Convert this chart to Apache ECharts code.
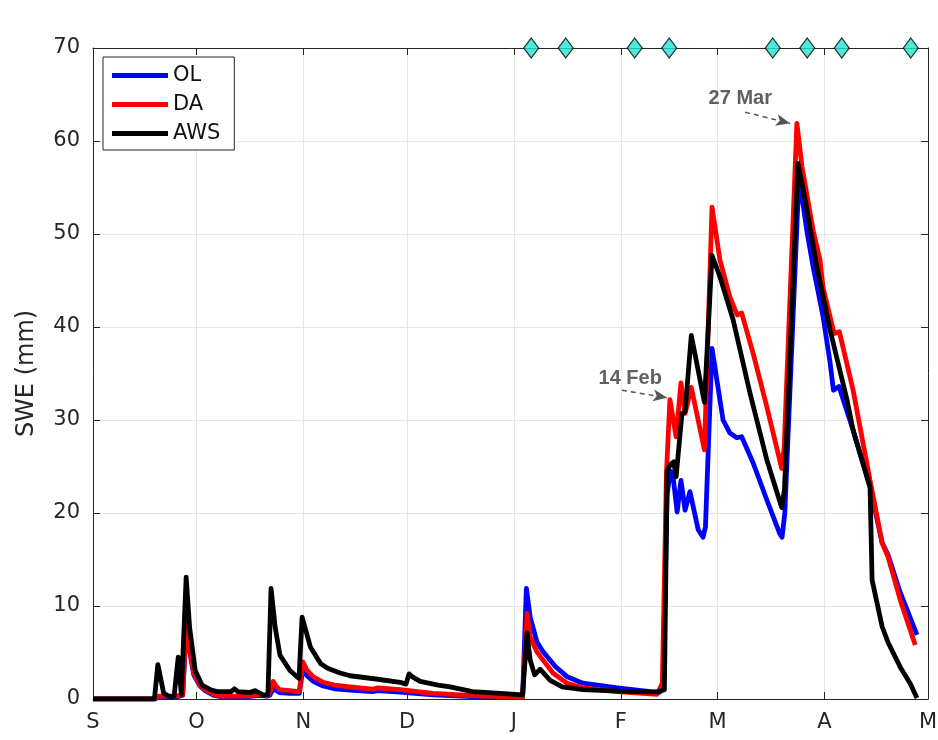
<!DOCTYPE html>
<html><head><meta charset="utf-8">
<script src="https://cdn.jsdelivr.net/npm/echarts@6/dist/echarts.min.js"></script>
<style>html,body{margin:0;padding:0;background:#fff}#c{width:938px;height:740px}</style>
</head><body><div id="c"></div>
<script>
// x values are days since 1 September
const monthTicks = [0, 30, 61, 91, 122, 153, 181, 212, 242];
const monthLabels = ['S', 'O', 'N', 'D', 'J', 'F', 'M', 'A', 'M'];
const seriesNames = ['OL', 'DA', 'AWS'];

const olData = [[0,0],[18,0],[19,0.2],[24,0.2],[26,0.4],[27,7.6],[28,5.2],[29.2,2.6],[31,1.4],[32.5,0.9],[35,0.4],[37,0.25],[45,0.25],[48,0.4],[50.4,0.3],[51.2,0.4],[52.2,1.1],[54,0.7],[57,0.6],[59.8,0.6],[60.8,3.2],[62,2.5],[63.8,1.9],[66.7,1.4],[70,1.1],[74.5,0.95],[81,0.8],[82.5,0.9],[89,0.75],[98.6,0.45],[113,0.2],[124.5,0.15],[125.6,11.9],[126.7,8.8],[128.7,6.1],[130.4,5.1],[134,3.5],[137.4,2.4],[142,1.7],[152,1.2],[161.5,0.8],[164.3,0.75],[165.2,1.5],[166.4,22],[167.3,24.5],[168,24.3],[169.3,20.1],[170.4,23.5],[171.6,20.3],[173,22.3],[175.4,18.2],[176.8,17.4],[177.5,18.5],[179.4,37.7],[182.6,30],[184.6,28.6],[186.6,28.1],[188,28.2],[191.3,25.4],[195.3,21.4],[199,17.8],[199.7,17.4],[200.5,20],[204.6,56.1],[207,50.1],[208.7,46.5],[211.6,41.1],[213.5,36.5],[214.6,33.2],[216.2,33.6],[220.3,28.9],[225.2,22.8],[228.7,16.8],[230.4,15.5],[234,11.4],[238.8,6.9]];

const daData = [[0,0],[18,0],[19,0.3],[24,0.3],[26,0.5],[27,8.0],[28,5.5],[29.2,2.8],[31,1.5],[32.5,1.0],[35,0.5],[37,0.3],[45,0.3],[48,0.5],[50.4,0.4],[51.2,0.6],[52.2,1.9],[53,1.4],[54,1.0],[57,0.9],[59.8,0.8],[60.8,4.0],[62,3.1],[63.8,2.4],[66.7,1.8],[70,1.5],[74.5,1.3],[81,1.05],[82.5,1.2],[89,1.0],[98.6,0.6],[113,0.3],[124.5,0.2],[125.8,9.2],[126.7,6.7],[128.6,5.1],[130.4,4.2],[133.3,2.8],[137.4,1.7],[142,1.2],[151.9,0.8],[163.5,0.5],[165,1.7],[166.2,24.3],[167.2,32.2],[169,28.2],[170.4,34.0],[171.6,30.7],[173.4,33.5],[177.2,26.8],[179.4,52.9],[181.7,47.2],[184.6,43.2],[186.7,41.3],[188,41.5],[191.3,37.2],[195.3,31.4],[199.6,24.8],[200.3,27],[204,61.9],[205.5,57.2],[208.7,50.4],[210.7,47.2],[211.6,44.2],[214.8,39.3],[216.3,39.5],[220.3,33.2],[225.2,23.5],[228.7,16.8],[230.4,15.3],[234,10.6],[238.3,5.8]];

const awsData = [[0,0],[17.8,0],[18.8,3.7],[20.5,0.6],[22.5,0.2],[23.5,0.3],[24.7,4.5],[25.6,0.5],[26.1,0.5],[27,13.1],[28,7.7],[29.6,3.1],[31.6,1.5],[34,1.0],[36,0.8],[40,0.8],[41,1.1],[42,0.8],[45.5,0.7],[47,0.9],[48,0.7],[49.5,0.4],[50.7,0.5],[51.6,11.9],[52.8,7.7],[54.2,4.7],[57,3.1],[59.7,2.2],[60.6,8.8],[63,5.6],[66,3.8],[68,3.3],[71.6,2.8],[74.5,2.5],[82,2.15],[89,1.8],[90.7,1.6],[91.6,2.7],[92.5,2.4],[94.8,1.9],[100,1.5],[103.5,1.3],[110,0.8],[118,0.6],[124.5,0.45],[125.8,7.1],[126.7,4.2],[128,2.6],[129.6,3.2],[132.5,2.0],[136,1.3],[142,1.0],[152,0.85],[163.5,0.75],[165.6,1.0],[166.4,24.5],[167.3,25.2],[168.3,25.5],[169,23.9],[170.7,30.7],[171.6,30.9],[173.4,39.1],[177.2,31.9],[179.4,47.7],[181.7,45.4],[185.5,40.8],[190.4,32.9],[195.3,25.7],[199.6,20.6],[200.4,22.5],[204.3,57.6],[206.4,53.7],[209.8,46.5],[213.6,39.7],[218.5,32.2],[220.3,28.9],[225.2,22.8],[225.8,12.8],[228.7,7.8],[230.4,6.1],[234,3.4],[236.8,1.7],[238.8,0.1]];

const obsDays = [127, 137, 157, 167, 197, 207, 217, 237];
const obsLevel = 70;

const noteTexts = ['27 Mar', '14 Feb'];
const noteTextAt = [[187.6, 64.6], [155.7, 34.5]];
const noteArrows = [[[189, 63.1], [202, 61.9]], [[153.3, 33.2], [166.4, 32.4]]];

const FONT = 'DejaVu Sans';
const AX = '#262626';
const GRIDC = '#e6e6e6';

const chart = echarts.init(document.getElementById('c'), null, {renderer: 'canvas'});

function lineSeries(name, data, color, extra) {
  return Object.assign({
    name, type: 'line', data, symbol: 'none', showSymbol: false,
    lineStyle: {color, width: 4.8, join: 'round'},
    itemStyle: {color},
    emphasis: {disabled: true}, silent: true, animation: false
  }, extra || {});
}

const option = {
  animation: false,
  backgroundColor: '#fff',
  grid: {left: 93, right: 10, top: 48, bottom: 41, containLabel: false, outerBoundsMode: 'none'},
  legend: {
    data: seriesNames,
    orient: 'vertical', left: 103, top: 57,
    icon: 'rect', itemWidth: 56, itemHeight: 5, itemGap: 8,
    padding: [8, 14, 6, 9],
    borderColor: AX, borderWidth: 1, backgroundColor: '#fff',
    textStyle: {fontFamily: FONT, fontSize: 21, lineHeight: 21, color: '#111'},
    selectedMode: false
  },
  xAxis: [{
    type: 'value', min: 0, max: 242, position: 'bottom',
    axisLine: {show: true, onZero: false, lineStyle: {color: AX, width: 1}},
    axisTick: {show: true, inside: true, length: 7, customValues: monthTicks, lineStyle: {color: AX}},
    axisLabel: {show: true, customValues: monthTicks, margin: 13, fontFamily: FONT, fontSize: 21, color: AX,
      formatter: v => monthLabels[monthTicks.indexOf(v)] || ''},
    splitLine: {show: true, lineStyle: {color: GRIDC, width: 1}}
  }, {
    type: 'value', min: 0, max: 242, position: 'top',
    axisLine: {show: true, onZero: false, lineStyle: {color: AX, width: 1}},
    axisTick: {show: true, inside: true, length: 7, customValues: monthTicks, lineStyle: {color: AX}},
    axisLabel: {show: false},
    splitLine: {show: false}
  }],
  yAxis: [{
    type: 'value', min: 0, max: 70, interval: 10, position: 'left',
    name: 'SWE (mm)', nameLocation: 'middle', nameGap: 54, nameRotate: 90,
    nameTextStyle: {fontFamily: FONT, fontSize: 24, color: AX},
    axisLine: {show: true, onZero: false, lineStyle: {color: AX, width: 1}},
    axisTick: {show: true, inside: true, length: 7, lineStyle: {color: AX}},
    axisLabel: {margin: 13, fontFamily: FONT, fontSize: 21, color: AX},
    splitLine: {show: true, lineStyle: {color: GRIDC, width: 1}}
  }, {
    type: 'value', min: 0, max: 70, interval: 10, position: 'right',
    axisLine: {show: true, onZero: false, lineStyle: {color: AX, width: 1}},
    axisTick: {show: true, inside: true, length: 7, lineStyle: {color: AX}},
    axisLabel: {show: false},
    splitLine: {show: false}
  }],
  series: [
    lineSeries('OL', olData, '#0000ff'),
    lineSeries('DA', daData, '#ff0000', {
      markLine: {
        silent: true, animation: false,
        symbol: ['none', 'arrow'], symbolSize: [9, 14],
        label: {show: false},
        lineStyle: {color: '#555', type: [5, 4], width: 1.5},
        emphasis: {disabled: true},
        data: noteArrows.map(a => [{coord: a[0]}, {coord: a[1]}])
      }
    }),
    lineSeries('AWS', awsData, '#000000'),
    {
      name: 'obs', type: 'scatter', data: obsDays.map(d => [d, obsLevel]),
      symbol: 'diamond', symbolSize: [15, 20], clip: false, z: 10,
      itemStyle: {color: '#1fe3d4', borderColor: '#000', borderWidth: 1.2},
      emphasis: {disabled: true}, silent: true, animation: false
    }
  ]
};
chart.setOption(option);

const graphics = noteTexts.map((t, i) => {
  const p = chart.convertToPixel({xAxisIndex: 0, yAxisIndex: 0}, noteTextAt[i]);
  return {
    type: 'text', x: p[0], y: p[1], silent: true, z: 20,
    style: {text: t, fill: '#606060', font: 'bold 20px "Liberation Sans", Arial, sans-serif',
      textAlign: 'center', textVerticalAlign: 'middle'}
  };
});
chart.setOption({graphic: graphics});
</script>
</body></html>
